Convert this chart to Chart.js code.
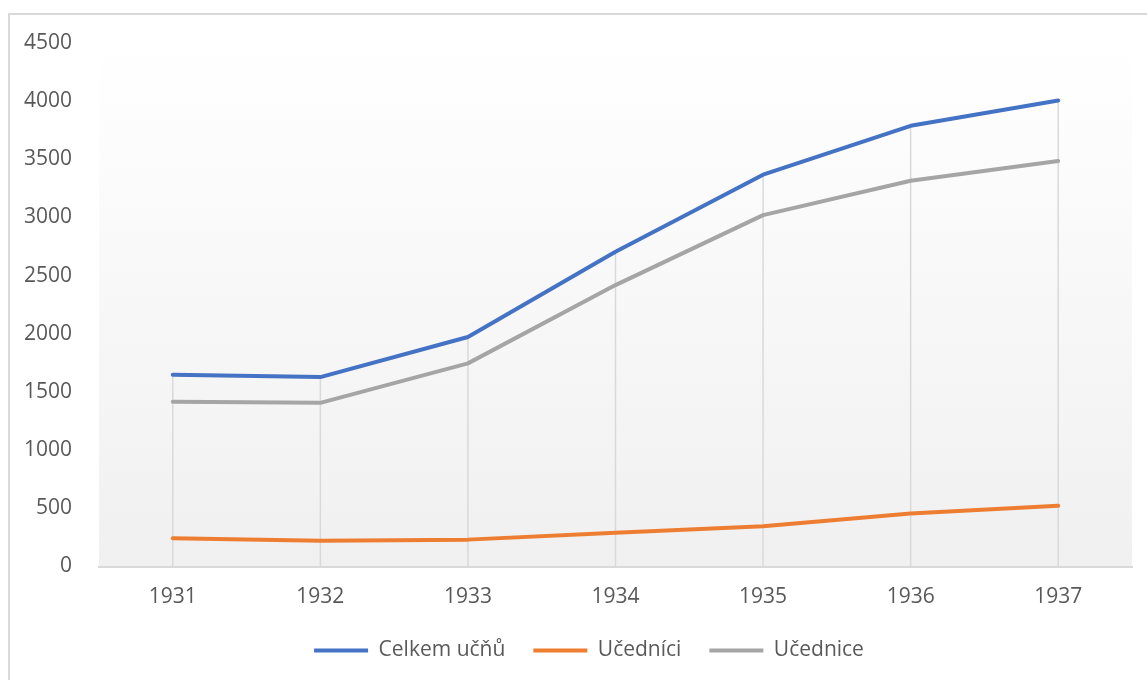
<!DOCTYPE html>
<html>
<head>
<meta charset="utf-8">
<script src="https://cdn.jsdelivr.net/npm/chart.js@4"></script>
<style>
  html, body { margin: 0; padding: 0; background: #ffffff; overflow: hidden; width: 1147px; height: 680px; }
  #frame { position: absolute; left: 8px; top: 13px; width: 1200px; height: 720px; border: 2px solid #d9d9d9; box-sizing: border-box; }
  #wrap { position: absolute; left: 0; top: 0; width: 1147px; height: 700px; }
</style>
</head>
<body>
<div id="frame"></div>
<div id="wrap"><canvas id="c" width="1147" height="700"></canvas></div>
<script>
const years = ['1931', '1932', '1933', '1934', '1935', '1936', '1937'];
const celkemUcnu = [1649, 1628, 1973, 2706, 3368, 3788, 4006];
const ucednici = [243, 222, 231, 291, 347, 455, 522];
const ucednice = [1416, 1407, 1746, 2419, 3020, 3316, 3486];
const seriesNames = ['Celkem učňů', 'Učedníci', 'Učednice'];
const yMin = 0, yMax = 4500, yStep = 500;

const FONT = "'Open Sans', 'Noto Sans', sans-serif";
const FS = 21;
const TEXT = '#595959';

const plotBg = {
  id: 'plotBg',
  beforeDraw(chart) {
    const {ctx, chartArea: a} = chart;
    const g = ctx.createLinearGradient(0, a.top, 0, a.bottom);
    g.addColorStop(0, '#ffffff');
    g.addColorStop(1, '#f0f0f0');
    ctx.save();
    ctx.fillStyle = g;
    ctx.fillRect(a.left, a.top, a.right - a.left, a.bottom - a.top);
    ctx.restore();
  }
};

const dropLines = {
  id: 'dropLines',
  beforeDatasetsDraw(chart) {
    const {ctx, scales: {x, y}} = chart;
    ctx.save();
    ctx.strokeStyle = '#d9d9d9';
    ctx.lineWidth = 1.5;
    years.forEach((_, i) => {
      let top = -Infinity;
      chart.data.datasets.forEach(ds => { top = Math.max(top, ds.data[i]); });
      const px = x.getPixelForValue(i);
      ctx.beginPath();
      ctx.moveTo(px, y.getPixelForValue(top));
      ctx.lineTo(px, y.getPixelForValue(yMin));
      ctx.stroke();
    });
    ctx.restore();
  }
};

const legendShift = {
  id: 'legendShift',
  afterLayout(chart) {
    const lg = chart.legend;
    if (lg) { lg.left += 46; lg.width -= 46; }
  }
};

function line(label, data, color) {
  return {
    label, data,
    borderColor: color, backgroundColor: color,
    borderWidth: 4, borderCapStyle: 'round', borderJoinStyle: 'round',
    pointRadius: 0, pointHoverRadius: 0, tension: 0, fill: false,
    pointStyle: 'line'
  };
}

new Chart(document.getElementById('c'), {
  type: 'line',
  data: {
    labels: years,
    datasets: [
      line(seriesNames[0], celkemUcnu, '#4472c4'),
      line(seriesNames[1], ucednici, '#ed7d31'),
      line(seriesNames[2], ucednice, '#a5a5a5')
    ]
  },
  options: {
    responsive: false,
    animation: false,
    events: [],
    layout: { padding: { left: 0, right: 15, top: 43, bottom: 29 } },
    plugins: {
      tooltip: { enabled: false },
      legend: {
        position: 'bottom',
        labels: {
          usePointStyle: true,
          pointStyleWidth: 54,
          boxHeight: FS,
          padding: 28,
          color: TEXT,
          font: { family: FONT, size: FS }
        }
      }
    },
    scales: {
      x: {
        offset: true,
        grid: { display: false, drawTicks: false },
        border: { display: true, color: '#d9d9d9', width: 2 },
        ticks: { color: TEXT, font: { family: FONT, size: FS }, padding: 18, maxRotation: 0 },
        afterFit(s) { s.height = 45.5; }
      },
      y: {
        min: yMin, max: yMax,
        grid: { display: false, drawTicks: false },
        border: { display: false },
        ticks: {
          stepSize: yStep, color: TEXT, font: { family: FONT, size: FS }, padding: 27,
          callback: v => String(v)
        },
        afterFit(s) { s.width = 99; }
      }
    }
  },
  plugins: [plotBg, dropLines, legendShift]
});
</script>
</body>
</html>
